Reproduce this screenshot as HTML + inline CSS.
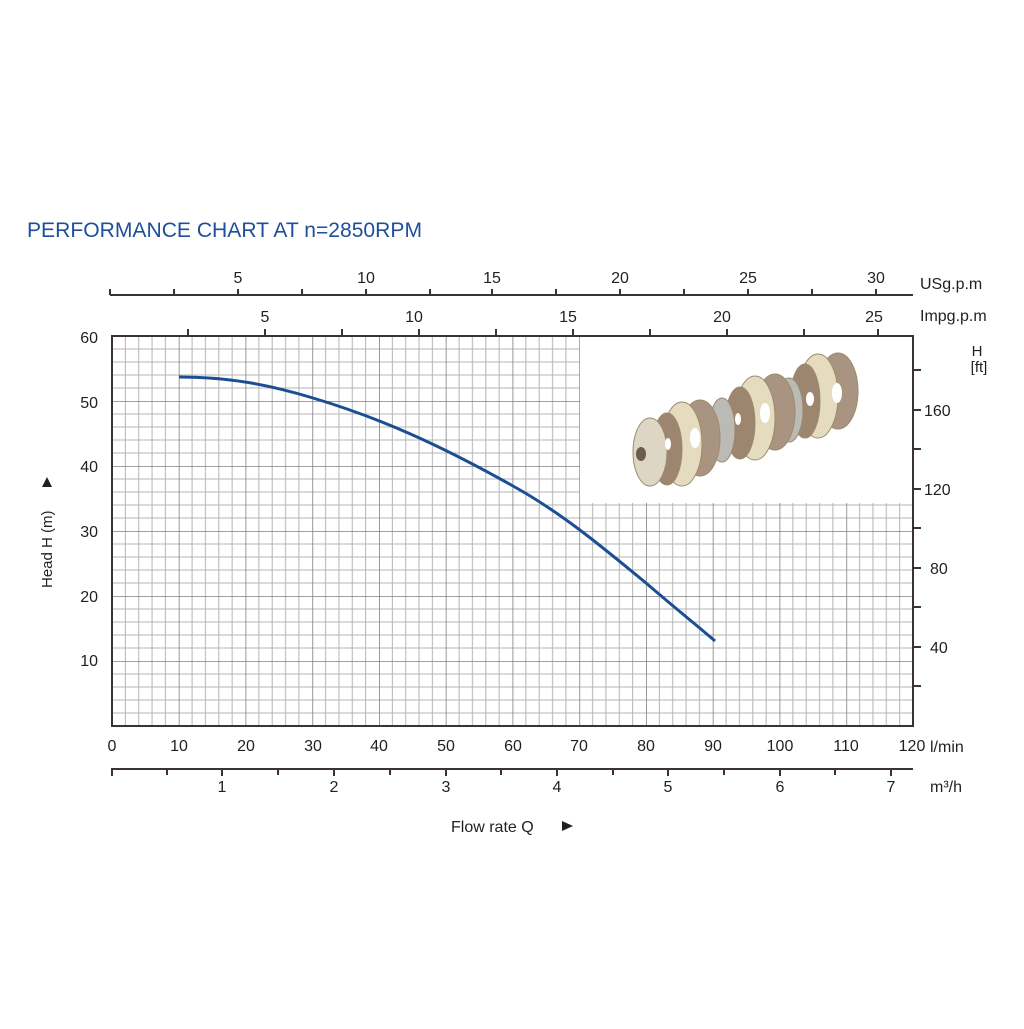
<!DOCTYPE html>
<html><head><meta charset="utf-8"><style>
html,body{margin:0;padding:0;background:#fff}
svg text{font-family:"Liberation Sans",sans-serif;fill:#231f20}
</style></head><body>
<svg width="1024" height="1024" viewBox="0 0 1024 1024" xmlns="http://www.w3.org/2000/svg">
<defs>
<pattern id="g" x="112" y="336" width="66.75" height="65" patternUnits="userSpaceOnUse">
<g stroke="#b4b4b4" stroke-width="1">
<line x1="13.35" y1="0" x2="13.35" y2="65"/><line x1="26.7" y1="0" x2="26.7" y2="65"/>
<line x1="40.05" y1="0" x2="40.05" y2="65"/><line x1="53.4" y1="0" x2="53.4" y2="65"/>
<line x1="0" y1="13" x2="66.75" y2="13"/><line x1="0" y1="26" x2="66.75" y2="26"/>
<line x1="0" y1="39" x2="66.75" y2="39"/><line x1="0" y1="52" x2="66.75" y2="52"/>
</g>
<g stroke="#808080" stroke-width="1.6"><line x1="0" y1="0" x2="0" y2="65"/><line x1="0" y1="0" x2="66.75" y2="0"/></g>
</pattern>
</defs>
<rect width="1024" height="1024" fill="#fff"/>
<text x="27" y="237" font-size="21" style="fill:#1f4f9a" textLength="395" lengthAdjust="spacingAndGlyphs">PERFORMANCE CHART AT n=2850RPM</text>

<rect x="112" y="336" width="801" height="390" fill="url(#g)"/>
<rect x="580" y="337" width="332" height="166" fill="#fff"/>
<rect x="112" y="336" width="801" height="390" fill="none" stroke="#3a3330" stroke-width="2"/>

<line x1="110" y1="295" x2="913" y2="295" stroke="#3a3330" stroke-width="2"/>
<g stroke="#3a3330" stroke-width="2">
<line x1="110" y1="295" x2="110" y2="289"/><line x1="174" y1="295" x2="174" y2="289"/><line x1="238" y1="295" x2="238" y2="289"/><line x1="302" y1="295" x2="302" y2="289"/><line x1="366" y1="295" x2="366" y2="289"/><line x1="430" y1="295" x2="430" y2="289"/><line x1="492" y1="295" x2="492" y2="289"/><line x1="556" y1="295" x2="556" y2="289"/><line x1="620" y1="295" x2="620" y2="289"/><line x1="684" y1="295" x2="684" y2="289"/><line x1="748" y1="295" x2="748" y2="289"/><line x1="812" y1="295" x2="812" y2="289"/><line x1="876" y1="295" x2="876" y2="289"/>
</g>
<g font-size="16" text-anchor="middle"><text x="238" y="283">5</text><text x="366" y="283">10</text><text x="492" y="283">15</text><text x="620" y="283">20</text><text x="748" y="283">25</text><text x="876" y="283">30</text></g>
<text x="920" y="289" font-size="16">USg.p.m</text>
<g stroke="#3a3330" stroke-width="2">
<line x1="188" y1="336" x2="188" y2="329"/><line x1="265" y1="336" x2="265" y2="329"/><line x1="342" y1="336" x2="342" y2="329"/><line x1="419" y1="336" x2="419" y2="329"/><line x1="496" y1="336" x2="496" y2="329"/><line x1="573" y1="336" x2="573" y2="329"/><line x1="650" y1="336" x2="650" y2="329"/><line x1="727" y1="336" x2="727" y2="329"/><line x1="804" y1="336" x2="804" y2="329"/><line x1="878" y1="336" x2="878" y2="329"/>
</g>
<g font-size="16" text-anchor="middle"><text x="265" y="322">5</text><text x="414" y="322">10</text><text x="568" y="322">15</text><text x="722" y="322">20</text><text x="874" y="322">25</text></g>
<text x="920" y="321" font-size="16">Impg.p.m</text>

<g font-size="16" text-anchor="end"><text x="98" y="343">60</text><text x="98" y="408">50</text><text x="98" y="472">40</text><text x="98" y="537">30</text><text x="98" y="602">20</text><text x="98" y="666">10</text></g>
<text transform="translate(52,588) rotate(-90)" font-size="15">Head H (m)</text>
<polygon points="42,487 52,487 47,477" fill="#231f20"/>

<g stroke="#3a3330" stroke-width="2">
<line x1="913" y1="370" x2="921" y2="370"/><line x1="913" y1="410" x2="921" y2="410"/><line x1="913" y1="449" x2="921" y2="449"/><line x1="913" y1="489" x2="921" y2="489"/><line x1="913" y1="528" x2="921" y2="528"/><line x1="913" y1="568" x2="921" y2="568"/><line x1="913" y1="607" x2="921" y2="607"/><line x1="913" y1="647" x2="921" y2="647"/><line x1="913" y1="686" x2="921" y2="686"/>
</g>
<g font-size="16"><text x="924" y="416">160</text><text x="924" y="495">120</text><text x="930" y="574">80</text><text x="930" y="653">40</text></g>
<text x="977" y="356" font-size="15" text-anchor="middle">H</text>
<text x="979" y="372" font-size="15" text-anchor="middle">[ft]</text>

<g font-size="16" text-anchor="middle"><text x="112" y="751">0</text><text x="179" y="751">10</text><text x="246" y="751">20</text><text x="313" y="751">30</text><text x="379" y="751">40</text><text x="446" y="751">50</text><text x="513" y="751">60</text><text x="579" y="751">70</text><text x="646" y="751">80</text><text x="713" y="751">90</text><text x="780" y="751">100</text><text x="846" y="751">110</text><text x="912" y="751">120</text></g>
<text x="930" y="752" font-size="16">l/min</text>

<line x1="111" y1="769" x2="913" y2="769" stroke="#3a3330" stroke-width="2"/>
<g stroke="#3a3330" stroke-width="2">
<line x1="112" y1="769" x2="112" y2="776"/><line x1="167" y1="769" x2="167" y2="775"/><line x1="222" y1="769" x2="222" y2="776"/><line x1="278" y1="769" x2="278" y2="775"/><line x1="334" y1="769" x2="334" y2="776"/><line x1="390" y1="769" x2="390" y2="775"/><line x1="446" y1="769" x2="446" y2="776"/><line x1="501" y1="769" x2="501" y2="775"/><line x1="557" y1="769" x2="557" y2="776"/><line x1="613" y1="769" x2="613" y2="775"/><line x1="668" y1="769" x2="668" y2="776"/><line x1="724" y1="769" x2="724" y2="775"/><line x1="780" y1="769" x2="780" y2="776"/><line x1="835" y1="769" x2="835" y2="775"/><line x1="891" y1="769" x2="891" y2="776"/>
</g>
<g font-size="16" text-anchor="middle"><text x="222" y="792">1</text><text x="334" y="792">2</text><text x="446" y="792">3</text><text x="557" y="792">4</text><text x="668" y="792">5</text><text x="780" y="792">6</text><text x="891" y="792">7</text></g>
<text x="930" y="792" font-size="16">m³/h</text>

<text x="451" y="832" font-size="16">Flow rate Q</text>
<polygon points="562,821 562,831 573,826" fill="#231f20"/>

<path d="M179,377 C230,377 270,385 313,398 C380,418 440,445 513,486 C560,512 600,545 646,583 C675,608 700,628 715,641" fill="none" stroke="#1c4e94" stroke-width="3"/>

<g stroke="#9c8a70" stroke-width="1">
<ellipse cx="838" cy="391" rx="20" ry="38" fill="#a89480"/>
<ellipse cx="818" cy="396" rx="20" ry="42" fill="#e5dcc0"/>
<ellipse cx="805" cy="401" rx="15" ry="37" fill="#9c8670"/>
<ellipse cx="789" cy="410" rx="14" ry="32" fill="#bcbab4"/>
<ellipse cx="775" cy="412" rx="20" ry="38" fill="#a89480"/>
<ellipse cx="755" cy="418" rx="20" ry="42" fill="#e5dcc0"/>
<ellipse cx="740" cy="423" rx="15" ry="36" fill="#9c8670"/>
<ellipse cx="722" cy="430" rx="13" ry="32" fill="#bcbab4"/>
<ellipse cx="700" cy="438" rx="20" ry="38" fill="#a89480"/>
<ellipse cx="682" cy="444" rx="20" ry="42" fill="#e5dcc0"/>
<ellipse cx="667" cy="449" rx="15" ry="36" fill="#9c8670"/>
<ellipse cx="650" cy="452" rx="17" ry="34" fill="#ddd6c5"/>
</g>
<g fill="#fff"><ellipse cx="837" cy="393" rx="5" ry="10"/><ellipse cx="810" cy="399" rx="4" ry="7"/><ellipse cx="765" cy="413" rx="5" ry="10"/><ellipse cx="738" cy="419" rx="3" ry="6"/><ellipse cx="695" cy="438" rx="5" ry="10"/><ellipse cx="668" cy="444" rx="3" ry="6"/></g>
<ellipse cx="641" cy="454" rx="5" ry="7" fill="#6b5d4d"/>
</svg>
</body></html>
